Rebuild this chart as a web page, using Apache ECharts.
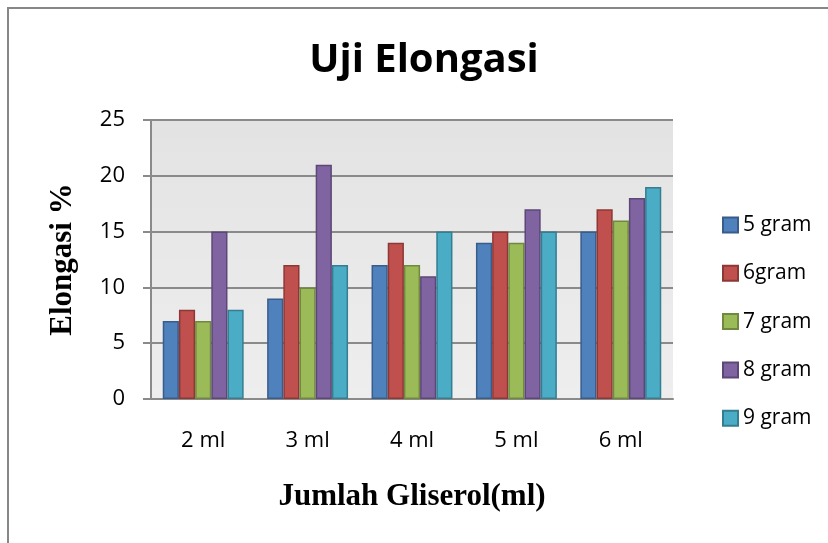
<!DOCTYPE html>
<html>
<head>
<meta charset="utf-8">
<script src="https://cdn.jsdelivr.net/npm/echarts@6/dist/echarts.min.js"></script>
<style>
html,body{margin:0;padding:0;background:#fff;}
#chart{width:828px;height:543px;}
</style>
</head>
<body>
<div id="chart"></div>
<script>
const categories = ['2 ml', '3 ml', '4 ml', '5 ml', '6 ml'];
const seriesNames = ['5 gram', '6gram', '7 gram', '8 gram', '9 gram'];
const s5gram = [7, 9, 12, 14, 15];
const s6gram = [8, 12, 14, 15, 17];
const s7gram = [7, 10, 12, 14, 16];
const s8gram = [15, 21, 11, 17, 18];
const s9gram = [8, 12, 15, 15, 19];
const yTicks = [0, 5, 10, 15, 20, 25];

const values = [s5gram, s6gram, s7gram, s8gram, s9gram];
const fills = ['#4F81BD', '#C0504D', '#9BBB59', '#8064A2', '#4BACC6'];
const borders = ['#385D8A', '#8C3836', '#71893F', '#5C4776', '#357D91'];

const chart = echarts.init(document.getElementById('chart'));
chart.setOption({
  animation: false,
  backgroundColor: '#fff',
  graphic: [
    { type: 'rect', shape: { x: 8, y: 8, width: 900, height: 600 },
      style: { fill: 'none', stroke: '#878787', lineWidth: 2 }, silent: true },
    { type: 'text', x: 424, y: 61,
      style: { text: 'Uji Elongasi', textAlign: 'center', textVerticalAlign: 'middle',
        font: 'bold 40px "Open Sans"', fill: '#000' } }
  ],
  grid: { left: 151, right: 155, top: 120, bottom: 144, show: true,
    backgroundColor: { type: 'linear', x: 0, y: 0, x2: 0, y2: 1,
      colorStops: [{ offset: 0, color: '#e3e3e3' }, { offset: 1, color: '#eeeeee' }] },
    borderWidth: 0 },
  legend: {
    orient: 'vertical', left: 717, top: 209,
    itemWidth: 15, itemHeight: 15, itemGap: 26.3, itemTextGap: 5,
    icon: 'rect',
    data: seriesNames,
    textStyle: { fontFamily: 'Open Sans', fontSize: 21, color: '#000', lineHeight: 22 }
  },
  xAxis: {
    type: 'category', data: categories,
    name: 'Jumlah Gliserol(ml)', nameLocation: 'middle', nameGap: 82,
    nameTextStyle: { fontFamily: 'Liberation Serif', fontWeight: 'bold', fontSize: 31, color: '#000' },
    axisLine: { show: true, lineStyle: { color: '#8a8a8a', width: 2 } },
    axisTick: { show: false },
    axisLabel: { margin: 31, fontFamily: 'Open Sans', fontSize: 22, color: '#000', lineHeight: 22 }
  },
  yAxis: {
    type: 'value', min: 0, max: 25, interval: 5,
    name: 'Elongasi %', nameLocation: 'middle', nameGap: 73, nameRotate: 90,
    nameTextStyle: { fontFamily: 'Liberation Serif', fontWeight: 'bold', fontSize: 31, color: '#000' },
    axisLine: { show: true, lineStyle: { color: '#8a8a8a', width: 2 } },
    axisTick: { show: true, inside: false, length: 8, lineStyle: { color: '#8a8a8a', width: 2 } },
    axisLabel: { margin: 26, fontFamily: 'Open Sans', fontSize: 22, color: '#000',
      formatter: v => yTicks.includes(v) ? String(v) : '' },
    splitLine: { show: true, lineStyle: { color: '#8a8a8a', width: 2 } }
  },
  series: seriesNames.map((name, i) => ({
    name, type: 'bar', data: values[i],
    barGap: '0%', barCategoryGap: '22.5%',
    itemStyle: { color: fills[i], borderColor: borders[i], borderWidth: 1.5 }
  }))
});
</script>
</body>
</html>
